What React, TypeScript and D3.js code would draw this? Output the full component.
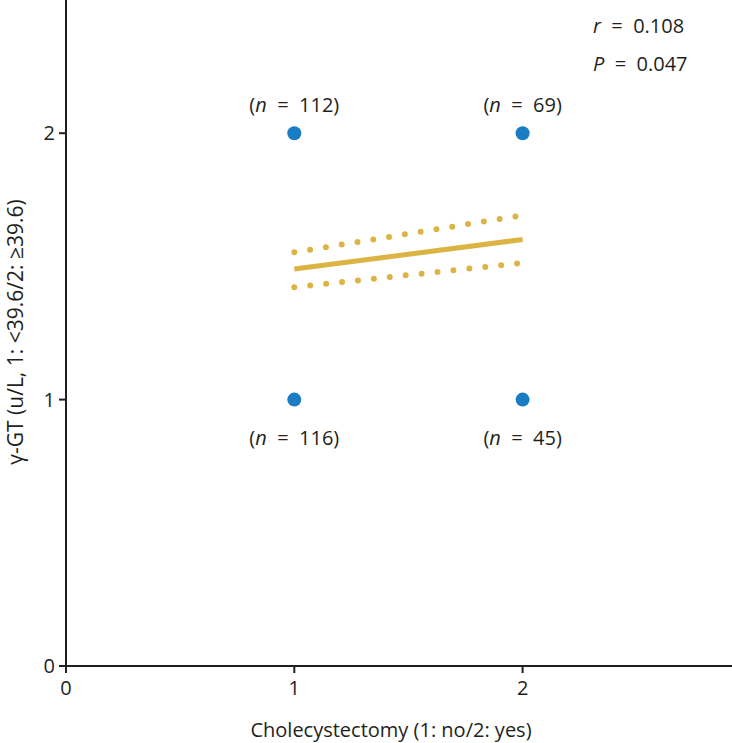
import React from "react";
import * as d3 from "d3";

const xTicks = [0, 1, 2];
const yTicks = [0, 1, 2];
const points = [
  { x: 1, y: 2, n: 112 },
  { x: 2, y: 2, n: 69 },
  { x: 1, y: 1, n: 116 },
  { x: 2, y: 1, n: 45 },
];
const fitX = [1, 2];
const fitY = [1.49, 1.601];
const upperY = [1.553, 1.692];
const lowerY = [1.422, 1.513];
const statR = "0.108";
const statP = "0.047";
const xLabel = "Cholecystectomy (1: no/2: yes)";
const yLabel = "γ-GT (u/L, 1: <39.6/2: ≥39.6)";

const W = 732;
const H = 743;
const FONT = "'Open Sans', 'Noto Sans', sans-serif";
const AXIS = "#231f20";
const BLUE = "#1a7dc4";
const GOLD = "#dcb443";
const FS = 20;

export default function App() {
  const x = d3.scaleLinear().domain([0, 3]).range([66, 66 + 3 * 228.3]);
  const y = d3.scaleLinear().domain([0, 2.5]).range([666, 0]);
  const line = d3
    .line<number>()
    .x((_, i) => x(fitX[i]))
    .y((d) => y(d));
  const x0 = x(0);
  const y0 = y(0);
  const pre = { whiteSpace: "pre" as const };
  return (
    <div style={{ position: "absolute", left: 0, top: 0 }}>
      <svg width={W} height={H} style={{ display: "block", background: "#fff" }} fontFamily={FONT}>
        {/* axes */}
        <line x1={x0} x2={x0} y1={0} y2={y0 + 1} stroke={AXIS} strokeWidth={2} />
        <line x1={x0 - 1} x2={W} y1={y0} y2={y0} stroke={AXIS} strokeWidth={2} />
        {yTicks.map((t) => (
          <g key={"y" + t}>
            <line x1={x0 - 7} x2={x0} y1={y(t)} y2={y(t)} stroke={AXIS} strokeWidth={2} />
            <text x={x0 - 11} y={y(t)} dy="0.36em" textAnchor="end" fontSize={FS} fill={AXIS}>
              {t}
            </text>
          </g>
        ))}
        {xTicks.map((t) => (
          <g key={"x" + t}>
            <line x1={x(t)} x2={x(t)} y1={y0} y2={y0 + 7} stroke={AXIS} strokeWidth={2} />
            <text x={x(t)} y={y0 + 29} textAnchor="middle" fontSize={FS} fill={AXIS}>
              {t}
            </text>
          </g>
        ))}
        <text x={391} y={737} textAnchor="middle" fontSize={FS} fill={AXIS}>
          {xLabel}
        </text>
        <text
          transform={`translate(23, 332) rotate(-90)`}
          textAnchor="middle"
          fontSize={21}
          fill={AXIS}
        >
          {yLabel}
        </text>

        {/* regression */}
        <path d={line(upperY) || ""} fill="none" stroke={GOLD} strokeWidth={6} strokeLinecap="round" strokeDasharray="0 16" />
        <path d={line(lowerY) || ""} fill="none" stroke={GOLD} strokeWidth={6} strokeLinecap="round" strokeDasharray="0 16" />
        <path d={line(fitY) || ""} fill="none" stroke={GOLD} strokeWidth={5} />

        {/* points */}
        {points.map((p, i) => (
          <g key={"p" + i}>
            <circle cx={x(p.x)} cy={y(p.y)} r={7} fill={BLUE} />
            <text
              x={x(p.x)}
              y={p.y === 2 ? y(p.y) - 21 : y(p.y) + 45}
              textAnchor="middle"
              fontSize={FS}
              fill={AXIS}
              style={pre}
            >
              (<tspan fontStyle="italic">n</tspan>{"  =  "}{p.n})
            </text>
          </g>
        ))}

        {/* stats */}
        <text x={593} y={33} fontSize={FS} fill={AXIS} style={pre}>
          <tspan fontStyle="italic">r</tspan>{"  =  "}{statR}
        </text>
        <text x={593} y={71} fontSize={FS} fill={AXIS} style={pre}>
          <tspan fontStyle="italic">P</tspan>{"  =  "}{statP}
        </text>
      </svg>
    </div>
  );
}
